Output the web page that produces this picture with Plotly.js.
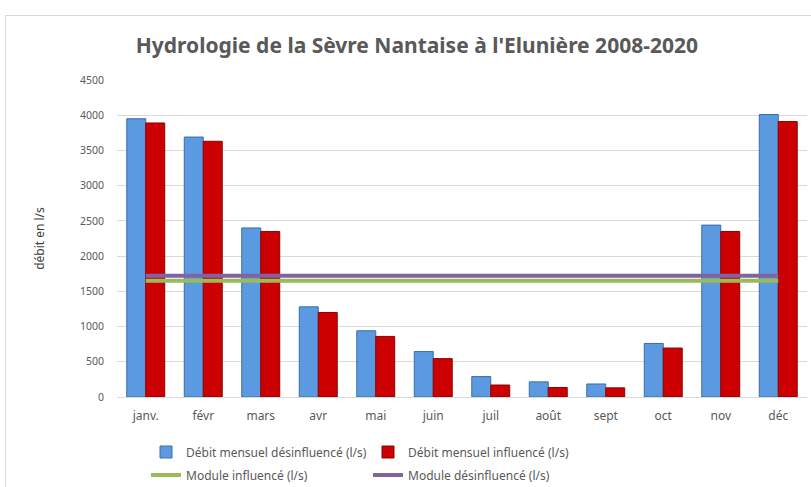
<!DOCTYPE html>
<html>
<head>
<meta charset="utf-8">
<script src="https://cdn.plot.ly/plotly-3.0.1.min.js"></script>
<style>
html,body{margin:0;padding:0;background:#fff;}
#frame{position:absolute;left:5px;top:15px;width:820px;height:480px;border:1px solid #d9d9d9;}
#chart{position:absolute;left:0;top:0;width:811px;height:487px;}
</style>
</head>
<body>
<div id="frame"></div>
<div id="chart"></div>
<script>
var months = ["janv.","févr","mars","avr","mai","juin","juil","août","sept","oct","nov","déc"];
var debitDesinfluence = [3950,3690,2400,1280,940,645,290,215,185,760,2440,4010];
var debitInfluence = [3890,3630,2350,1200,860,545,170,135,130,695,2350,3910];
var moduleInfluence = [1650,1650,1650,1650,1650,1650,1650,1650,1650,1650,1650,1650];
var moduleDesinfluence = [1720,1720,1720,1720,1720,1720,1720,1720,1720,1720,1720,1720];
var yTicks = [0,500,1000,1500,2000,2500,3000,3500,4000,4500];

var font = "Noto Sans, Open Sans, sans-serif";
var traces = [
  {type:"bar", x:months, y:debitDesinfluence, name:"Débit mensuel désinfluencé (l/s)",
   marker:{color:"#5b9ae0", line:{color:"#3a6ea8", width:1}}, legend:"legend"},
  {type:"bar", x:months, y:debitInfluence, name:"Débit mensuel influencé (l/s)",
   marker:{color:"#cc0000", line:{color:"#8f0000", width:1}}, legend:"legend"},
  {type:"scatter", mode:"lines", x:months, y:moduleInfluence, name:"Module influencé (l/s)",
   line:{color:"#9bbb59", width:4}, legend:"legend2"},
  {type:"scatter", mode:"lines", x:months, y:moduleDesinfluence, name:"Module désinfluencé (l/s)",
   line:{color:"#8064a2", width:4}, legend:"legend2"}
];
var legendCommon = {orientation:"h", xref:"container", yref:"container", xanchor:"left", yanchor:"middle",
  entrywidth:177, entrywidthmode:"pixels", itemwidth:30, font:{family:font, size:12, color:"#595959"},
  bgcolor:"rgba(0,0,0,0)", tracegroupgap:0};
var layout = {
  width:811, height:487,
  paper_bgcolor:"rgba(0,0,0,0)", plot_bgcolor:"rgba(0,0,0,0)",
  margin:{l:117, r:4, t:80, b:90},
  title:{text:"<b>Hydrologie de la Sèvre Nantaise à l'Elunière 2008-2020</b>", x:0.514, xanchor:"center",
    y:1-46/487, yanchor:"middle", font:{family:font, size:21, color:"#595959"}},
  barmode:"group", bargap:0.34, bargroupgap:0,
  xaxis:{type:"category", tickfont:{family:font, size:12, color:"#595959"}, showgrid:false,
    showline:true, linecolor:"#d9d9d9", ticks:"", ticklabelstandoff:8, fixedrange:true},
  yaxis:{range:[0,4500], tickvals:yTicks, ticktext:yTicks.map(String), showgrid:true, gridcolor:"#d9d9d9",
    gridwidth:1, zeroline:false, tickfont:{family:font, size:10.5, color:"#595959"}, ticks:"",
    ticklabelstandoff:12,
    title:{text:"débit en l/s", font:{family:font, size:12, color:"#404040"}, standoff:32}},
  legend:Object.assign({}, legendCommon, {x:146/811, y:1-452/487}),
  legend2:Object.assign({}, legendCommon, {x:146/811, y:1-475/487}),
  showlegend:true
};
Plotly.newPlot("chart", traces, layout, {displayModeBar:false, staticPlot:true});
</script>
</body>
</html>
